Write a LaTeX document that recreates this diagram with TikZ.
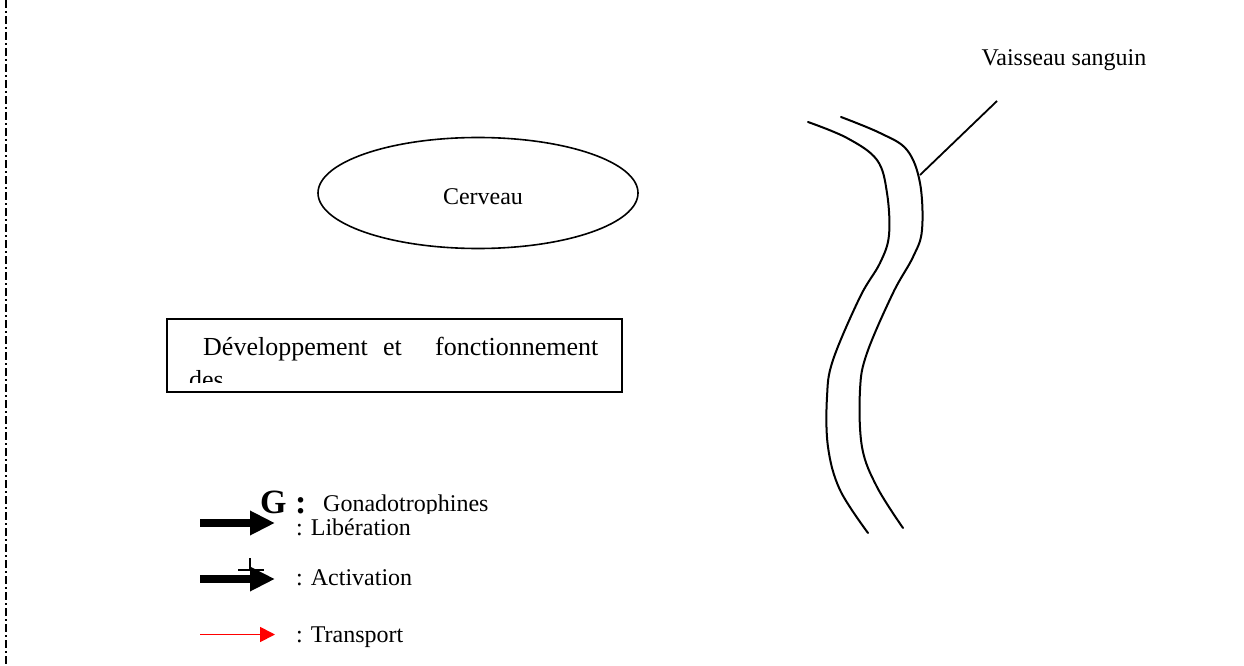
\documentclass[tikz,border=0pt]{standalone}
\usepackage{fontspec}
\setmainfont{Liberation Serif}
\usetikzlibrary{arrows.meta,shapes.geometric}
\begin{document}
\begin{tikzpicture}[x=1pt,y=-1pt,
  txt/.style={inner sep=0pt,anchor=base west,font=\fontsize{24}{28}\selectfont},
  boxtxt/.style={inner sep=0pt,anchor=base west,font=\fontsize{26}{30}\selectfont},
  vessel/.style={line width=2pt,line cap=round,line join=round},
  bigarrow/.style={line width=7.5pt,-{Triangle[length=25pt,width=23pt]}},
  redarrow/.style={red,line width=1.8pt,-{Triangle[length=15pt,width=15pt]}}]
\useasboundingbox (0,0) rectangle (1244,666);
% left dash-dot border
\coordinate (b1) at (6,0);
\coordinate (b2) at (6,666);
\draw[line width=1.8pt,dash pattern=on 8pt off 3pt on 2pt off 3pt] (b1) -- (b2);

% brain
\node[draw,ellipse,line width=1.6pt,minimum width=320pt,minimum height=111pt,inner sep=0pt] (brain) at (478,193) {};
\node[txt,anchor=base] (cerveau) at (483,204) {Cerveau};

% box
\node[draw,line width=2pt,minimum width=455pt,minimum height=73pt,inner sep=0pt,anchor=north west] (box) at (166,318) {};
\node[boxtxt] (w1) at (203,355) {Développement};
\node[boxtxt] (w2) at (383,355) {et};
\node[boxtxt] (w3) at (435,355) {fonctionnement};
\begin{scope}
  \clip (168,360) rectangle (619,382);
  \node[boxtxt] (w4) at (189,388) {des};
\end{scope}

% vessel
\draw[vessel] plot[smooth,tension=0.6] coordinates {(808,122) (847,138) (877,160) (887,193) (889,235) (880,263) (860,297) (833,360) (827,397) (828,447) (840,490) (868,533)};
\draw[vessel] plot[smooth,tension=0.6] coordinates {(841,117) (880,133) (907,150) (920,183) (922,230) (913,257) (893,293) (867,353) (860,390) (862,447) (877,487) (903,528)};
\coordinate (lead1) at (920,175);
\coordinate (lead2) at (997,101);
\draw[line width=1.8pt] (lead1) -- (lead2);
\node[txt,anchor=base] (vs) at (1064,66) {Vaisseau sanguin};

% legend
\begin{scope}
  \clip (250,470) rectangle (520,513.5);
  \node[inner sep=0pt,anchor=base west,font=\fontsize{34}{36}\selectfont\bfseries] (G) at (260,513) {G :};
  \node[txt] (gona) at (323,511) {Gonadotrophines};
\end{scope}

\coordinate (a1s) at (200,523);
\coordinate (a1e) at (275,523);
\draw[bigarrow] (a1s) -- (a1e);
\node[txt] (lib) at (296,535) {: Libération};

\coordinate (a2s) at (200,579);
\coordinate (a2e) at (275,579);
\draw[bigarrow] (a2s) -- (a2e);
\coordinate (p1) at (250,558);
\coordinate (p2) at (250,571);
\coordinate (p3) at (238,570);
\coordinate (p4) at (264,570);
\draw[line width=2.5pt] (p1) -- (p2);
\draw[line width=2.5pt] (p3) -- (p4);
\node[txt] (act) at (296,585) {: Activation};

\coordinate (a3s) at (200,634.5);
\coordinate (a3e) at (275,634.5);
\draw[redarrow] (a3s) -- (a3e);
\node[txt] (tr) at (296,642) {: Transport};
\end{tikzpicture}
\end{document}
